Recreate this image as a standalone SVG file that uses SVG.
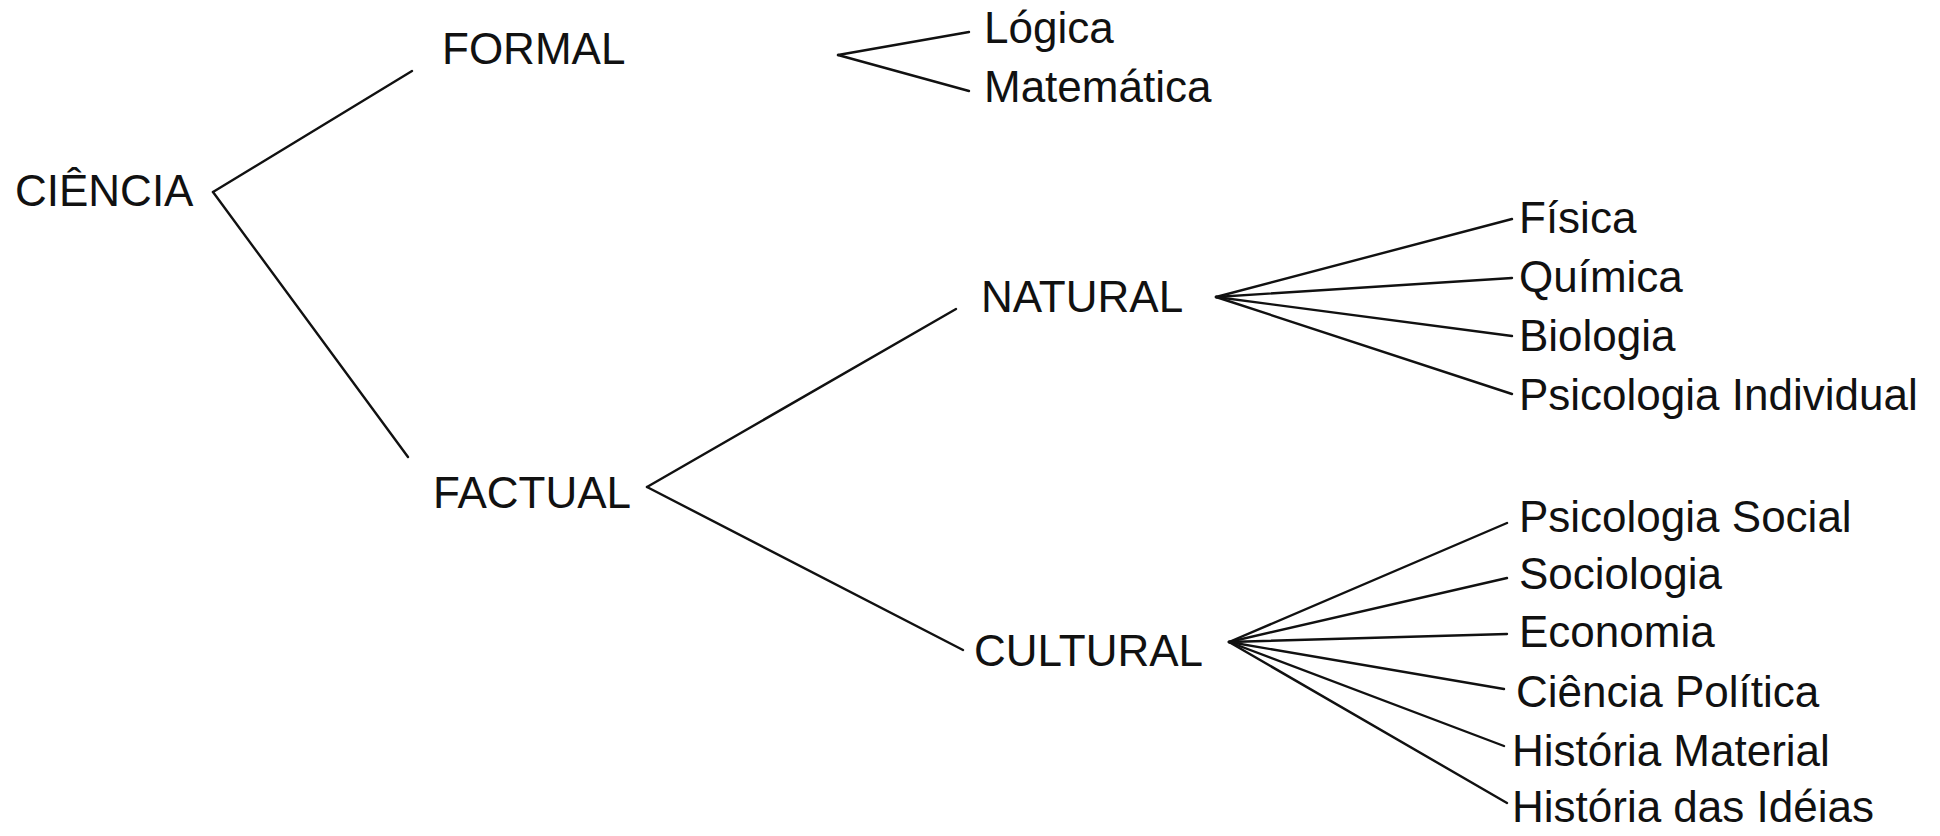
<svg xmlns="http://www.w3.org/2000/svg" width="1940" height="836" viewBox="0 0 1940 836">
<style>
text{font-family:"Liberation Sans",Arial,sans-serif;font-size:44px;fill:#111}
.c line{stroke:#111;stroke-width:2.4;stroke-linecap:round}
</style>
<rect width="1940" height="836" fill="#fff"/>
<g class="c" id="connectors">
<line x1="213" y1="192" x2="412" y2="71"/>
<line x1="213" y1="192" x2="408" y2="457"/>
<line x1="838" y1="55" x2="969" y2="32"/>
<line x1="838" y1="55" x2="969" y2="91"/>
<line x1="647" y1="487" x2="956" y2="309"/>
<line x1="647" y1="487" x2="963" y2="650"/>
<line x1="1216" y1="297" x2="1512" y2="219"/>
<line x1="1216" y1="297" x2="1512" y2="278"/>
<line x1="1216" y1="297" x2="1512" y2="336"/>
<line x1="1216" y1="297" x2="1512" y2="394"/>
<line x1="1229" y1="642" x2="1507" y2="523"/>
<line x1="1229" y1="642" x2="1507" y2="578"/>
<line x1="1229" y1="642" x2="1507" y2="634"/>
<line x1="1229" y1="642" x2="1504" y2="689"/>
<line x1="1229" y1="642" x2="1504" y2="746"/>
<line x1="1229" y1="642" x2="1507" y2="803"/>
</g>
<g id="ciencia"><text x="15" y="206">CIÊNCIA</text></g>
<g id="formal"><text x="442" y="64">FORMAL</text></g>
<g id="factual"><text x="433" y="508">FACTUAL</text></g>
<g id="natural"><text x="981" y="312">NATURAL</text></g>
<g id="cultural"><text x="974" y="666">CULTURAL</text></g>
<g id="logica"><text x="984" y="43">Lógica</text></g>
<g id="matematica"><text x="984" y="102">Matemática</text></g>
<g id="fisica"><text x="1519" y="233">Física</text></g>
<g id="quimica"><text x="1519" y="292">Química</text></g>
<g id="biologia"><text x="1519" y="351">Biologia</text></g>
<g id="psicind"><text x="1519" y="410">Psicologia Individual</text></g>
<g id="psicsoc"><text x="1519" y="532">Psicologia Social</text></g>
<g id="sociologia"><text x="1519" y="589">Sociologia</text></g>
<g id="economia"><text x="1519" y="647">Economia</text></g>
<g id="cienciapol"><text x="1516" y="707">Ciência Política</text></g>
<g id="histmat"><text x="1512" y="766">História Material</text></g>
<g id="histideias"><text x="1512" y="822">História das Idéias</text></g>
</svg>
